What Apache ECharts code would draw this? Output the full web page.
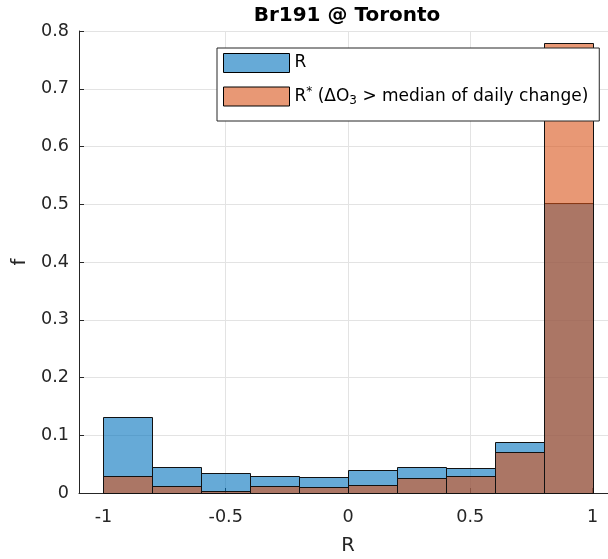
<!DOCTYPE html>
<html><head><meta charset="utf-8">
<script src="https://cdn.jsdelivr.net/npm/echarts@6/dist/echarts.min.js"></script>
<style>html,body{margin:0;padding:0;background:#fff}#c{width:608px;height:559px}</style>
</head><body><div id="c"></div>
<script>
// ---- data ----
const binEdges = [-1, -0.8, -0.6, -0.4, -0.2, 0, 0.2, 0.4, 0.6, 0.8, 1];
const fR = [0.131, 0.0455, 0.0346, 0.0294, 0.0277, 0.0393, 0.0455, 0.0438, 0.0877, 0.502];
const fRstar = [0.030, 0.0121, 0.003, 0.0121, 0.0099, 0.0144, 0.0265, 0.0294, 0.0704, 0.779];
const xTickValues = [-1, -0.5, 0, 0.5, 1];
const seriesNames = ['R', 'R*'];
const titleText = 'Br191 @ Toronto';
const xName = 'R';
const yName = 'f';
const xMin = -1.1, xMax = 1.1;

const FONT = 'DejaVu Sans';
const blue = 'rgba(0,114,189,0.6)';
const orange = 'rgba(217,83,25,0.6)';

function toData(vals) {
  return vals.map((v, i) => [binEdges[i], binEdges[i + 1], v]);
}
function makeRender(fill) {
  return function (params, api) {
    const a = api.coord([api.value(0), api.value(2)]);
    const b = api.coord([api.value(1), 0]);
    const x0 = Math.round(a[0]) + 0.5, x1 = Math.round(b[0]) + 0.5;
    const y0 = Math.round(a[1]) + 0.5, y1 = Math.round(b[1]) + 0.5;
    return {
      type: 'rect',
      shape: { x: x0, y: y0, width: x1 - x0, height: y1 - y0 },
      style: { fill: fill, stroke: '#111', lineWidth: 1 }
    };
  };
}

const chart = echarts.init(document.getElementById('c'), null, { renderer: 'canvas' });
chart.setOption({
  animation: false,
  backgroundColor: '#fff',
  textStyle: { fontFamily: FONT },
  title: {
    text: titleText, left: 347, top: 6, padding: 0, textAlign: 'center',
    textStyle: { fontFamily: FONT, fontWeight: 'bold', fontSize: 20, color: '#000' }
  },
  grid: { show: false, borderWidth: 0, outerBoundsMode: 'none', containLabel: false,
          left: 79, top: 31, width: 538, height: 462 },
  legend: {
    orient: 'vertical', left: 217, top: 48,
    padding: [5, 11, 14, 6], itemGap: 13,
    itemWidth: 66, itemHeight: 19,
    icon: 'rect',
    selectedMode: false,
    backgroundColor: '#fff', borderColor: '#262626', borderWidth: 1,
    itemStyle: { borderColor: '#000', borderWidth: 1 },
    data: seriesNames,
    formatter: function (name) {
      if (name === 'R*') {
        return '{n|R}{sup|*}{n| (ΔO}{sub|3}{n| > median of daily change)}';
      }
      return '{n|' + name + '}';
    },
    textStyle: {
      fontFamily: FONT, fontSize: 17, color: '#000',
      rich: {
        n: { fontFamily: FONT, fontSize: 17, lineHeight: 21, color: '#000' },
        sup: { fontFamily: FONT, fontSize: 12, lineHeight: 12, verticalAlign: 'top', color: '#000' },
        sub: { fontFamily: FONT, fontSize: 12, lineHeight: 12, verticalAlign: 'bottom', color: '#000' }
      }
    }
  },
  xAxis: {
    type: 'value', min: xMin, max: xMax,
    name: xName, nameLocation: 'middle', nameGap: 43,
    nameTextStyle: { fontFamily: FONT, fontSize: 19.5, color: '#262626' },
    axisLine: { show: true, onZero: false, lineStyle: { color: '#262626', width: 1 } },
    axisTick: { show: true, inside: true, length: 5, customValues: xTickValues, lineStyle: { color: '#262626' } },
    axisLabel: { customValues: xTickValues, margin: 15, fontFamily: FONT, fontSize: 17.6, color: '#262626' },
    splitLine: { show: true, showMinLine: false, showMaxLine: false, lineStyle: { color: '#e3e3e3', width: 1 } }
  },
  yAxis: {
    type: 'value', min: 0, max: 0.8, interval: 0.1,
    name: yName, nameLocation: 'middle', nameGap: 49, nameRotate: 90,
    nameTextStyle: { fontFamily: FONT, fontSize: 19.5, color: '#262626' },
    axisLine: { show: true, onZero: false, lineStyle: { color: '#262626', width: 1 } },
    axisTick: { show: true, inside: true, length: 5, lineStyle: { color: '#262626' } },
    axisLabel: { margin: 10, fontFamily: FONT, fontSize: 17.6, color: '#262626' },
    splitLine: { show: true, lineStyle: { color: '#e3e3e3', width: 1 } }
  },
  series: [
    { name: seriesNames[0], type: 'custom', renderItem: makeRender(blue), itemStyle: { color: blue },
      encode: { x: [0, 1], y: 2 }, data: toData(fR), z: 2 },
    { name: seriesNames[1], type: 'custom', renderItem: makeRender(orange), itemStyle: { color: orange },
      encode: { x: [0, 1], y: 2 }, data: toData(fRstar), z: 3 }
  ]
});
</script>
</body></html>
